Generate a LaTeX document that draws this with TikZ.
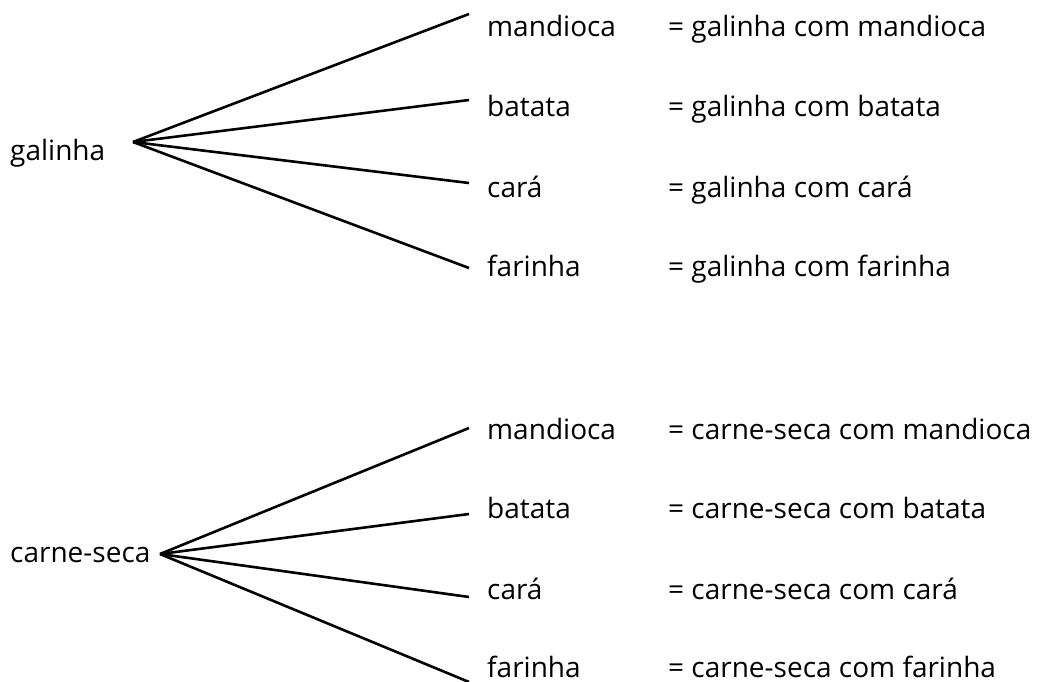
\documentclass[tikz,border=0pt]{standalone}
\usepackage{fontspec}
\setmainfont{Open Sans}
\begin{document}
\begin{tikzpicture}[x=1pt,y=-1pt,
  lbl/.style={anchor=base west,inner sep=0pt,font=\fontsize{28}{32}\selectfont},
  branch/.style={line width=2.6pt}]
\useasboundingbox (0,0) rectangle (1038,682);
% top tree
\node[lbl] (g) at (10,160) {galinha};
\coordinate (gr) at (133,142);
\coordinate (g1) at (469,14);
\coordinate (g2) at (469,100);
\coordinate (g3) at (469,183);
\coordinate (g4) at (469,268);
\node[lbl] (ga) at (487,37) {mandioca};
\node[lbl] (gb) at (487,117) {batata};
\node[lbl] (gc) at (487,197) {cará};
\node[lbl] (gd) at (487,276) {farinha};
\node[lbl] (gae) at (668,37) {= galinha com mandioca};
\node[lbl] (gbe) at (668,117) {= galinha com batata};
\node[lbl] (gce) at (668,197) {= galinha com cará};
\node[lbl] (gde) at (668,276) {= galinha com farinha};
\foreach \e in {g1,g2,g3,g4} \draw[branch] (gr) -- (\e);
% bottom tree
\node[lbl] (c) at (10,562) {carne-seca};
\coordinate (cr) at (160,554);
\coordinate (c1) at (469,428);
\coordinate (c2) at (469,514);
\coordinate (c3) at (469,597);
\coordinate (c4) at (469,682);
\node[lbl] (ca) at (487,439) {mandioca};
\node[lbl] (cb) at (487,518) {batata};
\node[lbl] (cc) at (487,599) {cará};
\node[lbl] (cd) at (487,677) {farinha};
\node[lbl] (cae) at (668,439) {= carne-seca com mandioca};
\node[lbl] (cbe) at (668,518) {= carne-seca com batata};
\node[lbl] (cce) at (668,599) {= carne-seca com cará};
\node[lbl] (cde) at (668,677) {= carne-seca com farinha};
\foreach \e in {c1,c2,c3,c4} \draw[branch] (cr) -- (\e);
\end{tikzpicture}
\end{document}
